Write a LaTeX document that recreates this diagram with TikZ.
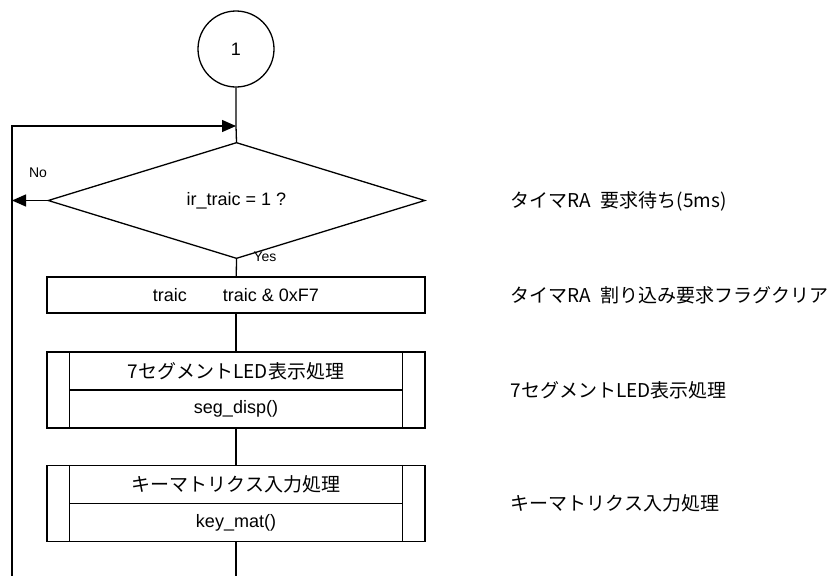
\documentclass[tikz,border=0pt]{standalone}
\usepackage{fontspec}
\setmainfont{Liberation Sans}
\newfontfamily\jp{Noto Sans CJK JP}
\usetikzlibrary{positioning}
\usetikzlibrary{shapes.geometric,arrows.meta}

\begin{document}
\begin{tikzpicture}[x=1pt, y=-1pt, line width=1.3pt,
        every node/.style={font=\fontsize{18}{20}\selectfont},
        conn/.style={draw, circle, minimum size=76pt, inner sep=0pt},
        decide/.style={draw, diamond, minimum width=377pt, minimum height=75pt, inner sep=0pt},
        proc/.style={draw, rectangle, minimum width=378pt, minimum height=36pt, inner sep=0pt},
        sub/.style={draw, rectangle, minimum width=378pt, minimum height=76pt, inner sep=0pt},
        lbl/.style={font=\fontsize{14}{16}\selectfont, inner sep=0pt},
        note/.style={anchor=west, inner sep=0pt, font=\jp\fontsize{19}{21}\selectfont},
        flow/.style={-{Triangle[length=14pt,width=12pt]}}]
            \useasboundingbox (0,0) rectangle (836,576);

            \node[conn] (start) at (236,49) {1};
            \coordinate (join) at (236,126);
            \node[decide] (wait) at (236.5,200.5) {ir\_traic = 1 ?};
            \node[proc] (clr) at (236,295) {traic\quad\quad traic \& 0xF7};
            \node[sub] (seg) at (236,390) {};
            \node[sub] (key) at (236,503.5) {};
            \coordinate (end) at (236,576);
            \coordinate (noend) at (12,200.5);
            \coordinate (loopb) at (12,576);
            \coordinate (loopt) at (12,126);

            % subroutine boxes
            \foreach \s/\top/\bot in {seg/{\jp\fontsize{19}{21}\selectfont 7セグメントLED表示処理}/seg\_disp(), key/{\jp\fontsize{19}{21}\selectfont キーマトリクス入力処理}/key\_mat()} {
                \draw ([xshift=23pt]\s.north west) -- ([xshift=23pt]\s.south west);
                \draw ([xshift=-23pt]\s.north east) -- ([xshift=-23pt]\s.south east);
                \draw ([xshift=23pt]\s.west) -- ([xshift=-23pt]\s.east);
                \node at ([yshift=19pt]\s.center) {\top};
                \node at ([yshift=-19pt]\s.center) {\bot};
            }

            \draw (start) -- (join) -- (wait.north);
            \draw (wait.south) -- (clr);
            \draw (clr) -- (seg);
            \draw (seg) -- (key);
            \draw (key) -- (end);
            \draw[flow] (wait.west) -- (noend);
            \draw[flow] (loopb) -- (loopt) -- (join);

            \node[lbl] (no) at (38,173) {No};
            \node[lbl] (yes) at (265,257) {Yes};

            \node[note] (n1) at (510,201) {タイマRA\hspace{0.5em}要求待ち(5ms)};
            \node[note] (n2) at (510,295) {タイマRA\hspace{0.5em}割り込み要求フラグクリア};
            \node[note] (n3) at (510,390) {7セグメントLED表示処理};
            \node[note] (n4) at (510,503) {キーマトリクス入力処理};
        \end{tikzpicture}
\end{document}
